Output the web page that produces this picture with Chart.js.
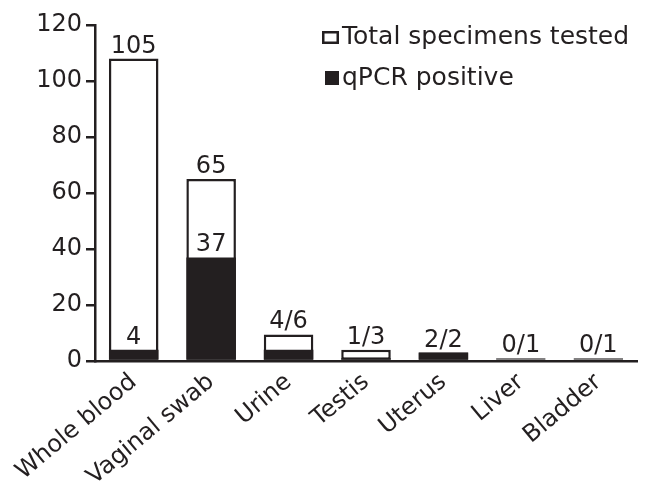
<!DOCTYPE html>
<html>
<head>
<meta charset="utf-8">
<script src="https://cdn.jsdelivr.net/npm/chart.js@4/dist/chart.umd.min.js"></script>
<style>
  html, body { margin: 0; padding: 0; background: #fff; }
  #wrap { width: 647px; height: 490px; }
</style>
</head>
<body>
<div id="wrap"><canvas id="chart" width="647" height="490"></canvas></div>
<script>
// ── Dados ─────────────────────────────────────────────
const categories     = ['Whole blood', 'Vaginal swab', 'Urine', 'Testis', 'Uterus', 'Liver', 'Bladder'];
const totalTested    = [108, 65, 9.5, 4, 3, 1, 1];
const qpcrPositive   = [4, 37, 4, 1, 3, 0, 0];
const totalLabels    = ['105', '65', '4/6', '1/3', '2/2', '0/1', '0/1'];
const positiveLabels = ['4', '37', '', '', '', '', ''];
const seriesNames    = ['Total specimens tested', 'qPCR positive'];
const yMax  = 120;
const yStep = 20;

const INK  = '#231f20';
const FONT = "'DejaVu Sans', sans-serif";

// rótulos em cima das barras
const barLabels = {
  id: 'barLabels',
  afterDatasetsDraw(chart) {
    const { ctx } = chart;
    ctx.save();
    ctx.font = `24px ${FONT}`;
    ctx.fillStyle = INK;
    ctx.textAlign = 'center';
    ctx.textBaseline = 'alphabetic';
    [[0, totalLabels], [1, positiveLabels]].forEach(([ds, texts]) => {
      chart.getDatasetMeta(ds).data.forEach((bar, i) => {
        if (!texts[i]) return;
        ctx.fillText(texts[i], bar.x, bar.y - 6);
      });
    });
    ctx.restore();
  }
};

// legenda empilhada no canto superior direito
const cornerLegend = {
  id: 'cornerLegend',
  afterDraw(chart) {
    const { ctx } = chart;
    const x = chart.width - 325;
    const rows = [37, 78];
    ctx.save();
    ctx.font = `25px ${FONT}`;
    ctx.textBaseline = 'middle';
    chart.data.datasets.forEach((ds, i) => {
      const y = rows[i];
      if (ds.borderWidth) {
        ctx.fillStyle = ds.backgroundColor;
        ctx.fillRect(x, y - 6, 17, 13);
        ctx.lineWidth = 2.5;
        ctx.strokeStyle = ds.borderColor;
        ctx.strokeRect(x + 1.25, y - 4.75, 14.5, 10.5);
      } else {
        ctx.fillStyle = ds.backgroundColor;
        ctx.fillRect(x + 3, y - 7, 14, 14);
      }
      ctx.fillStyle = INK;
      ctx.fillText(ds.label, x + 20, y);
    });
    ctx.restore();
  }
};

new Chart(document.getElementById('chart'), {
  type: 'bar',
  data: {
    labels: categories,
    datasets: [
      // order maior = desenhado por baixo
      { label: seriesNames[0], data: totalTested, backgroundColor: '#ffffff',
        borderColor: INK, borderWidth: 2.5, borderSkipped: false, grouped: false, order: 2 },
      { label: seriesNames[1], data: qpcrPositive, backgroundColor: INK,
        borderWidth: 0, grouped: false, order: 1 }
    ]
  },
  options: {
    responsive: false,
    animation: false,
    events: [],
    layout: { padding: { top: 25, right: 10, left: 0, bottom: 0 } },
    datasets: { bar: { categoryPercentage: 1, barPercentage: 0.64 } },
    plugins: { legend: { display: false }, tooltip: { enabled: false } },
    scales: {
      x: {
        grid: { display: false, drawTicks: false },
        border: { display: true, color: INK, width: 2.5 },
        ticks: { color: INK, font: { family: FONT, size: 24 }, minRotation: 40, maxRotation: 40,
          autoSkip: false, padding: 7 },
        afterFit: s => { s.height = 129; }
      },
      y: {
        min: 0, max: yMax,
        grid: { display: true, drawOnChartArea: false, drawTicks: true, tickLength: 9,
          color: INK, lineWidth: 2.5 },
        border: { display: true, color: INK, width: 2.5 },
        ticks: { stepSize: yStep, color: INK, font: { family: FONT, size: 24 }, padding: 4 },
        afterFit: s => { s.width = 95; }
      }
    }
  },
  plugins: [barLabels, cornerLegend]
});
</script>
</body>
</html>
